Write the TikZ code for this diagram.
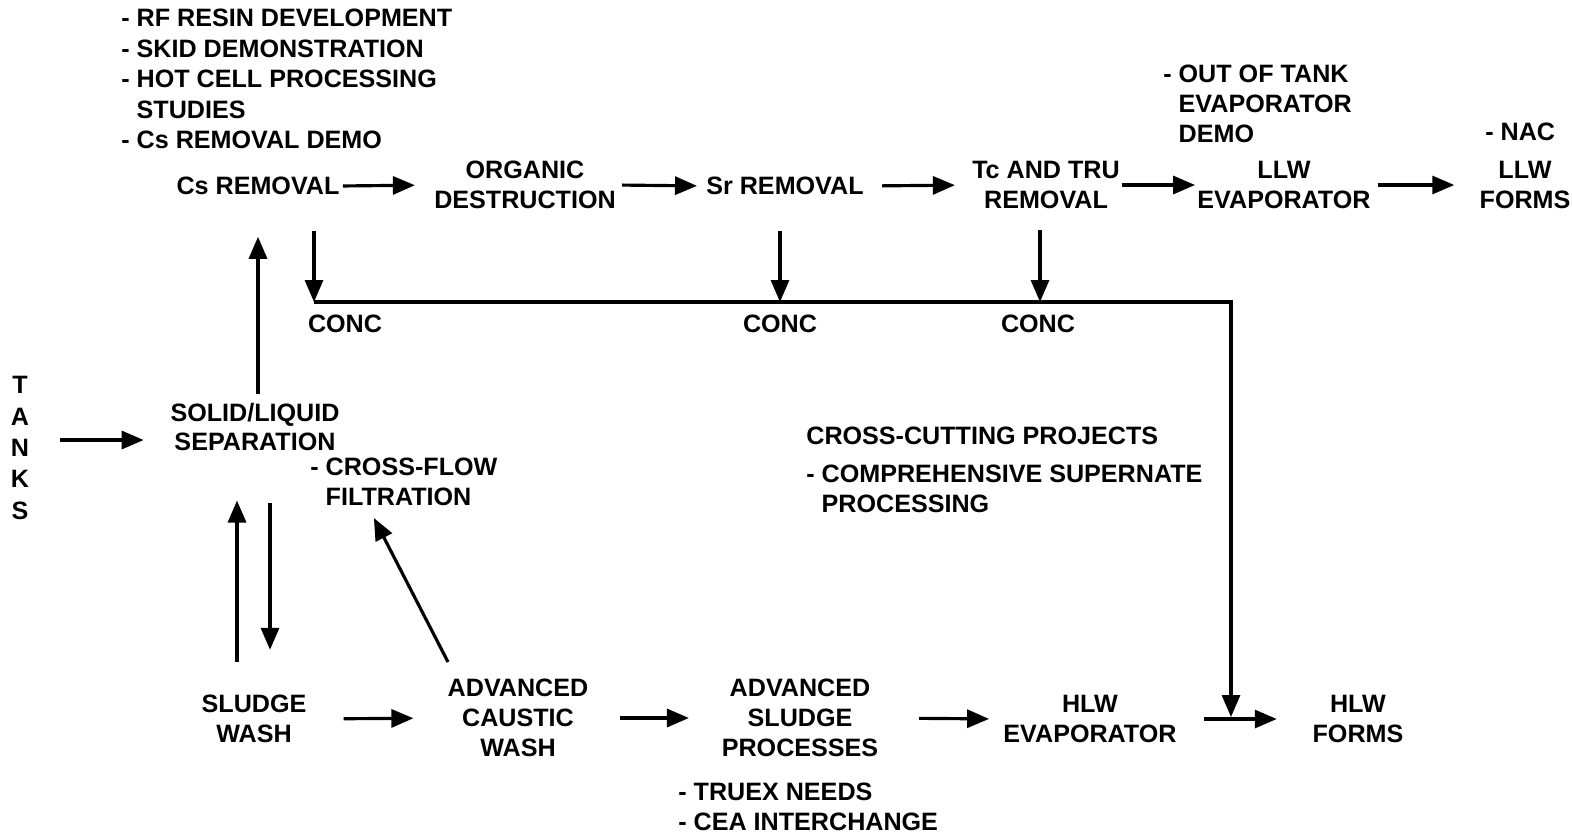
\documentclass[tikz,border=0pt]{standalone}
\usepackage{fontspec}
\setmainfont{Liberation Sans}
\usepackage{tikz}
\usetikzlibrary{arrows.meta}

\newcommand{\dfont}{\fontsize{14.3}{17}\selectfont\bfseries}

\begin{document}
\begin{tikzpicture}[x=0.2mm, y=-0.2mm,
    every node/.style={font=\dfont, inner sep=0pt},
    lbl/.style={align=center},
    note/.style={align=left, anchor=west},
    flow/.style={-{Triangle[length=4.4mm, width=3.6mm]}, line width=1.8pt}]
            \useasboundingbox (0,0) rectangle (1572,839);

            % top row: supernate line
            \node[note, font={\dfont\fontsize{14.3}{17.3}\selectfont}] (csnote) at (121,79) {- RF RESIN DEVELOPMENT\\- SKID DEMONSTRATION\\- HOT CELL PROCESSING\\\phantom{- }STUDIES\\- Cs REMOVAL DEMO};
            \node[lbl] (cs) at (258,186) {Cs REMOVAL};
            \node[lbl] (org) at (525,185) {ORGANIC\\DESTRUCTION};
            \node[lbl] (sr) at (785,186) {Sr REMOVAL};
            \node[lbl] (tc) at (1046,185) {Tc AND TRU\\REMOVAL};
            \node[note] (ottnote) at (1163,104) {- OUT OF TANK\\\phantom{- }EVAPORATOR\\\phantom{- }DEMO};
            \node[lbl] (llwe) at (1284,185) {LLW\\EVAPORATOR};
            \node[note] (nacnote) at (1485,132) {- NAC};
            \node[lbl] (llwf) at (1525,185) {LLW\\FORMS};

            \coordinate (j1) at (314,302);
            \coordinate (j2) at (780,302);
            \coordinate (j3) at (1040,302);
            \coordinate (corner) at (1231,302);
            \coordinate (jh) at (1231,717);
            \node[lbl] (conc1) at (345,324) {CONC};
            \node[lbl] (conc2) at (780,324) {CONC};
            \node[lbl] (conc3) at (1038,324) {CONC};

            % feed and separation
            \node[lbl, font={\dfont\fontsize{14.3}{17.9}\selectfont}] (tanks) at (20,448) {T\\A\\N\\K\\S};
            \node[lbl] (sep) at (255,427) {SOLID/LIQUID\\SEPARATION};
            \node[note] (cffnote) at (310,482) {- CROSS-FLOW\\\phantom{- }FILTRATION};
            \node[note] (xcut) at (806,470) {CROSS-CUTTING PROJECTS\\[1.6mm]- COMPREHENSIVE SUPERNATE\\\phantom{- }PROCESSING};

            % bottom row: sludge line
            \node[lbl] (sludge) at (254,719) {SLUDGE\\WASH};
            \node[lbl] (caustic) at (518,718) {ADVANCED\\CAUSTIC\\WASH};
            \node[lbl] (asp) at (800,718) {ADVANCED\\SLUDGE\\PROCESSES};
            \node[note] (truex) at (678,807) {- TRUEX NEEDS\\- CEA INTERCHANGE};
            \node[lbl] (hlwe) at (1090,719) {HLW\\EVAPORATOR};
            \node[lbl] (hlwf) at (1358,719) {HLW\\FORMS};

            \draw[flow, shorten <=0.6mm, shorten >=3.8mm] (cs.east) -- (org.west);
            \draw[flow, shorten <=1.2mm, shorten >=1.8mm] (org.east) -- (sr.west);
            \draw[flow, shorten <=3.6mm, shorten >=3.4mm] (sr.east) -- (tc.west);
            \draw[flow, shorten <=0.4mm, shorten >=0.4mm] (tc.east) -- (llwe.west);
            \draw[flow, shorten <=1.4mm, shorten >=5mm] (llwe.east) -- (llwf.west);

            \draw[flow, shorten <=7.1mm] (cs.south -| j1) -- (j1);
            \draw[flow, shorten <=7.1mm] (sr.south -| j2) -- (j2);
            \draw[flow, shorten <=4.2mm] (tc.south -| j3) -- (j3);
            \draw[flow] (j1) -- (corner) -- (jh);

            \draw[flow, shorten <=1.6mm, shorten >=8.3mm] (sep.north -| cs) -- (cs.south);
            \draw[flow, shorten <=6.2mm, shorten >=5.3mm] ([yshift=1.6mm]tanks.east) -- ([yshift=1.6mm]tanks.east -| sep.west);
            \draw[flow, shorten <=6.6mm, shorten >=9.8mm] ([xshift=-3.4mm]sludge.north) -- ([xshift=-3.4mm]sludge.north |- sep.south);
            \draw[flow, shorten <=10.2mm, shorten >=9mm] ([xshift=3mm]sep.south) -- ([xshift=3mm]sep.south |- sludge.north);
            \draw[flow] ([shift={(-70,-56)}]caustic.center) -- ([shift={(-30,36)}]cffnote.center);

            \draw[flow, shorten <=7.4mm, shorten >=6.8mm] (sludge.east) -- (caustic.west);
            \draw[flow, shorten <=6.2mm, shorten >=6.5mm] (caustic.east) -- (asp.west);
            \draw[flow, shorten <=8.1mm, shorten >=2.8mm] (asp.east) -- (hlwe.west);
            \draw[flow, shorten <=5.4mm, shorten >=7.1mm] (hlwe.east) -- (hlwf.west);
        \end{tikzpicture}
\end{document}
